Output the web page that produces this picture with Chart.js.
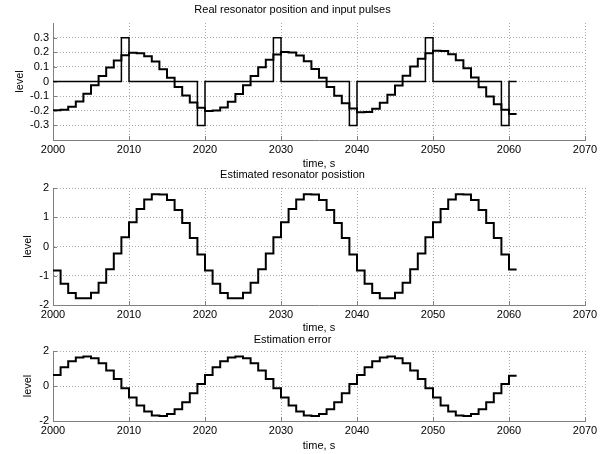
<!DOCTYPE html>
<html>
<head>
<meta charset="utf-8">
<script src="https://cdn.jsdelivr.net/npm/chart.js@4.4.1/dist/chart.umd.min.js"></script>
<style>
  html, body { margin: 0; padding: 0; background: #fff; }
  #wrap { position: relative; width: 608px; height: 454px; overflow: hidden; }
  canvas { position: absolute; left: 0; }
</style>
</head>
<body>
<div id="wrap">
  <canvas id="realChart" width="608" height="171" style="top:0px"></canvas>
  <canvas id="estChart" width="608" height="173" style="top:162px"></canvas>
  <canvas id="errChart" width="608" height="123" style="top:330px"></canvas>
</div>
<script>
// time axis: one sample per second, 2000 .. 2061 (last value repeated to close the final step)
const startTime = 2000;
const xTicks = [2000, 2010, 2020, 2030, 2040, 2050, 2060, 2070];

// real resonator position
const realPos = [
  -0.196, -0.194, -0.173, -0.136, -0.084, -0.025, 0.037, 0.095, 0.144, 0.179,
  0.196, 0.194, 0.173, 0.136, 0.084, 0.025, -0.037, -0.095, -0.144, -0.179,
  -0.201, -0.199, -0.178, -0.139, -0.086, -0.025, 0.038, 0.098, 0.148, 0.184,
  0.201, 0.199, 0.178, 0.139, 0.086, 0.025, -0.038, -0.098, -0.148, -0.184,
  -0.211, -0.209, -0.187, -0.146, -0.091, -0.027, 0.040, 0.103, 0.155, 0.193,
  0.211, 0.209, 0.187, 0.146, 0.091, 0.027, -0.040, -0.103, -0.155, -0.193,
  -0.222, -0.222
];

// input pulses
const inputPulses = [
  0, 0, 0, 0, 0, 0, 0, 0, 0, 0.3,
  0, 0, 0, 0, 0, 0, 0, 0, 0, -0.3,
  0, 0, 0, 0, 0, 0, 0, 0, 0, 0.3,
  0, 0, 0, 0, 0, 0, 0, 0, 0, -0.3,
  0, 0, 0, 0, 0, 0, 0, 0, 0, 0.3,
  0, 0, 0, 0, 0, 0, 0, 0, 0, -0.3,
  0, 0
];

// estimated resonator position
const estPos = [
  -0.82, -1.27, -1.59, -1.77, -1.77, -1.58, -1.24, -0.78, -0.24, 0.32,
  0.83, 1.28, 1.61, 1.79, 1.78, 1.59, 1.25, 0.80, 0.29, -0.27,
  -0.82, -1.27, -1.59, -1.77, -1.77, -1.58, -1.24, -0.78, -0.24, 0.32,
  0.83, 1.28, 1.61, 1.79, 1.78, 1.59, 1.25, 0.80, 0.29, -0.27,
  -0.82, -1.27, -1.59, -1.77, -1.77, -1.58, -1.24, -0.78, -0.24, 0.32,
  0.83, 1.28, 1.61, 1.79, 1.78, 1.59, 1.25, 0.80, 0.29, -0.27,
  -0.79, -0.79
];

// estimation error
const estErr = [
  0.63, 1.07, 1.42, 1.63, 1.69, 1.58, 1.30, 0.89, 0.40, -0.13,
  -0.66, -1.11, -1.46, -1.68, -1.71, -1.60, -1.33, -0.93, -0.42, 0.11,
  0.63, 1.07, 1.42, 1.63, 1.69, 1.58, 1.30, 0.89, 0.40, -0.13,
  -0.66, -1.11, -1.46, -1.68, -1.71, -1.60, -1.33, -0.93, -0.42, 0.11,
  0.63, 1.07, 1.42, 1.63, 1.69, 1.58, 1.30, 0.89, 0.40, -0.13,
  -0.66, -1.11, -1.46, -1.68, -1.71, -1.60, -1.33, -0.93, -0.42, 0.11,
  0.59, 0.59
];

const realTicks = [-0.3, -0.2, -0.1, 0, 0.1, 0.2, 0.3];
const estTicks = [-2, -1, 0, 1, 2];
const errTicks = [-2, 0, 2];

const axisColor = "#808080";
const gridColor = "#a8a8a8";
const fontSpec = { family: '"Liberation Sans", Arial, Helvetica, sans-serif', size: 11 };

Chart.defaults.font.family = fontSpec.family;
Chart.defaults.font.size = fontSpec.size;
Chart.defaults.color = "#000";

const toPoints = (vals) => vals.map((v, i) => ({ x: startTime + i, y: v }));

// matlab style ticks pointing into the axes
const innerTicks = {
  id: "innerTicks",
  afterDraw(chart) {
    const { ctx, chartArea, scales } = chart;
    ctx.save();
    ctx.strokeStyle = axisColor;
    ctx.lineWidth = 1;
    ctx.beginPath();
    scales.y.ticks.forEach((t) => {
      const y = Math.round(scales.y.getPixelForValue(t.value)) + 0.5;
      ctx.moveTo(chartArea.left, y);
      ctx.lineTo(chartArea.left + 4, y);
    });
    scales.x.ticks.forEach((t) => {
      const x = Math.round(scales.x.getPixelForValue(t.value)) + 0.5;
      ctx.moveTo(x, chartArea.bottom);
      ctx.lineTo(x, chartArea.bottom - 4);
    });
    ctx.stroke();
    ctx.restore();
  },
};

function makePanel(id, p) {
  const ctx = document.getElementById(id).getContext("2d");
  return new Chart(ctx, {
    type: "line",
    data: {
      datasets: p.series.map((s) => ({
        data: toPoints(s.values),
        borderColor: "#000",
        borderWidth: s.width,
        pointRadius: 0,
        stepped: "before",
        fill: false,
      })),
    },
    options: {
      responsive: false,
      animation: false,
      devicePixelRatio: 1,
      layout: { padding: { left: 0, right: 23, top: 0, bottom: 0 } },
      plugins: {
        legend: { display: false },
        tooltip: { enabled: false },
        title: {
          display: true,
          text: p.title,
          color: "#000",
          font: { ...fontSpec, weight: "normal" },
          padding: { top: p.titleTop, bottom: p.titleBottom },
        },
      },
      scales: {
        x: {
          type: "linear",
          min: 2000,
          max: 2070,
          afterBuildTicks: (scale) => {
            scale.ticks = xTicks.map((v) => ({ value: v }));
          },
          afterFit: (scale) => {
            scale.height = p.xHeight;
          },
          ticks: {
            padding: 3,
            maxRotation: 0,
            autoSkip: false,
            color: "#000",
            callback: (v) => String(v),
          },
          grid: { color: gridColor, lineWidth: 1, drawTicks: false },
          border: { display: true, color: axisColor, width: 1, dash: [1, 2] },
          title: {
            display: true,
            text: "time, s",
            color: "#000",
            font: fontSpec,
            padding: { top: 0, bottom: 0 },
          },
        },
        y: {
          min: p.yMin,
          max: p.yMax,
          afterBuildTicks: (scale) => {
            scale.ticks = p.yTicks.map((v) => ({ value: v }));
          },
          afterFit: (scale) => {
            scale.width = 53;
          },
          ticks: {
            padding: 4,
            autoSkip: false,
            color: "#000",
            callback: p.yFormat,
          },
          grid: { color: gridColor, lineWidth: 1, drawTicks: false },
          border: { display: true, color: axisColor, width: 1, dash: [1, 2] },
          title: {
            display: true,
            text: "level",
            color: "#000",
            font: fontSpec,
            padding: { top: p.yTitlePad, bottom: 0 },
          },
        },
      },
    },
    plugins: [innerTicks],
  });
}

makePanel("realChart", {
  title: "Real resonator position and input pulses",
  titleTop: 3,
  titleBottom: 6.8,
  xHeight: 31,
  yTitlePad: 13.4,
  yMin: -0.4,
  yMax: 0.4,
  yTicks: realTicks,
  yFormat: (v) => (Math.abs(v) < 1e-9 ? "0" : v.toFixed(1)),
  series: [
    { values: inputPulses, width: 1.5 },
    { values: realPos, width: 2 },
  ],
});

makePanel("estChart", {
  title: "Estimated resonator posistion",
  titleTop: 6.4,
  titleBottom: 6.4,
  xHeight: 30,
  yTitlePad: 21.4,
  yMin: -2,
  yMax: 2,
  yTicks: estTicks,
  yFormat: (v) => String(v),
  series: [{ values: estPos, width: 2 }],
});

makePanel("errChart", {
  title: "Estimation error",
  titleTop: 3.4,
  titleBottom: 4.4,
  xHeight: 32,
  yTitlePad: 21.4,
  yMin: -2,
  yMax: 2,
  yTicks: errTicks,
  yFormat: (v) => String(v),
  series: [{ values: estErr, width: 2 }],
});
</script>
</body>
</html>
